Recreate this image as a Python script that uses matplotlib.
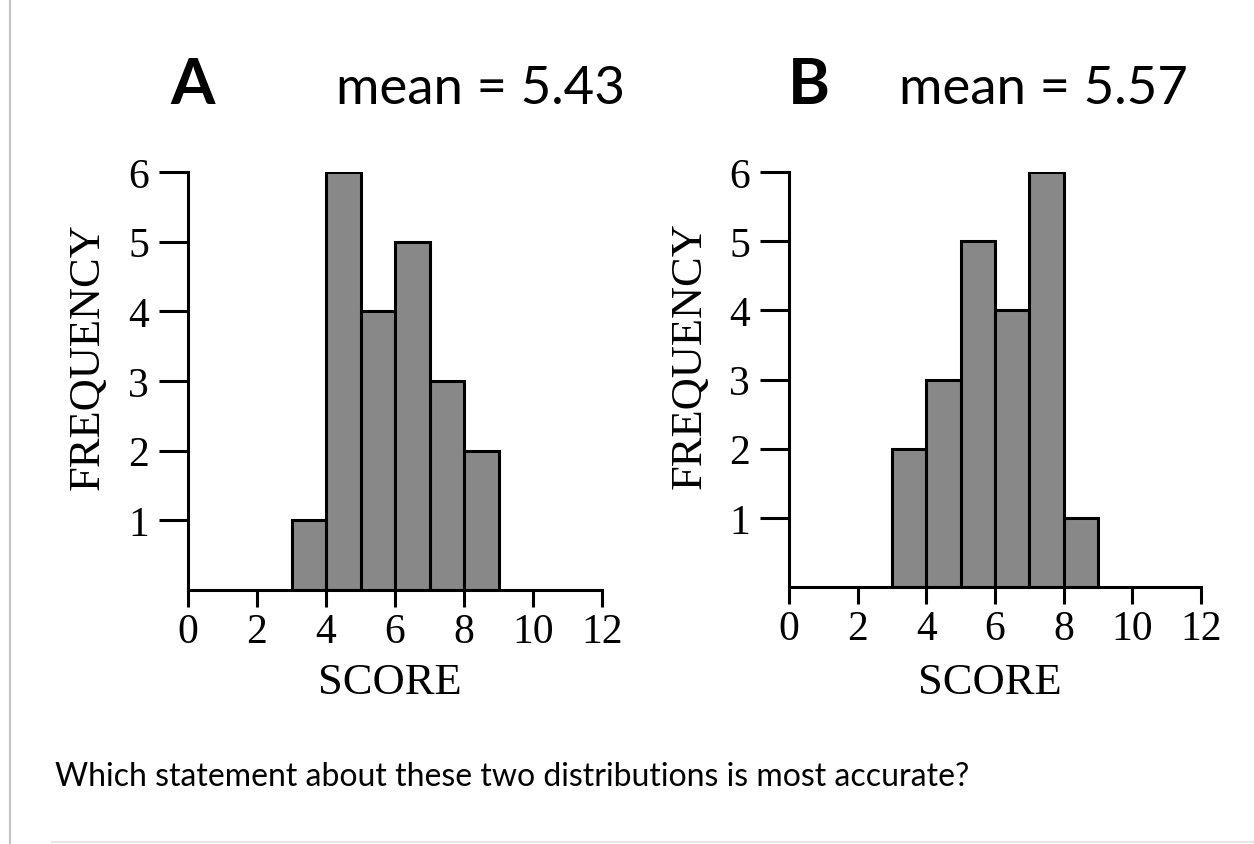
import matplotlib
matplotlib.use("Agg")
import matplotlib.pyplot as plt
from matplotlib.lines import Line2D

# ==========================
# DATOS
# ==========================

bin_edges = [3, 4, 5, 6, 7, 8, 9]
freq_a = [1, 6, 4, 5, 3, 2]
freq_b = [2, 3, 5, 4, 6, 1]

x_ticks = [0, 2, 4, 6, 8, 10, 12]
y_ticks = [1, 2, 3, 4, 5, 6]

title_a = "mean = 5.43"
title_b = "mean = 5.57"
question = "Which statement about these two distributions is most accurate?"

BAR_COLOR = "#888888"
LW = 2.2
SERIF = "Liberation Serif"
SANS = "Lato"

W, H = 1254, 845
fig = plt.figure(figsize=(W / 100, H / 100), dpi=100)
fig.patch.set_facecolor("white")


def px_axes(left, bottom_px, right, top_px):
    return fig.add_axes([
        left / W,
        (H - bottom_px) / H,
        (right - left) / W,
        (bottom_px - top_px) / H,
    ])


def histograma(ax, freqs, score_y):
    ax.bar(
        bin_edges[:-1],
        freqs,
        width=1,
        align="edge",
        color=BAR_COLOR,
        edgecolor="black",
        linewidth=LW,
        zorder=2,
    )
    ax.set_xlim(0, 12)
    ax.set_ylim(0, 6)
    ax.set_xticks(x_ticks)
    ax.set_yticks(y_ticks)
    ax.set_xticklabels([str(t) for t in x_ticks], fontfamily=SERIF, fontsize=30)
    ax.set_yticklabels([str(t) for t in y_ticks], fontfamily=SERIF, fontsize=30)

    for s in ["top", "right"]:
        ax.spines[s].set_visible(False)
    for s in ["left", "bottom"]:
        ax.spines[s].set_linewidth(LW)
        ax.spines[s].set_zorder(3)
        ax.spines[s].set_capstyle("projecting")

    ax.tick_params(axis="x", direction="out", length=12, width=LW, pad=4)
    ax.tick_params(axis="y", direction="out", length=21, width=LW, pad=7)

    ax.text(
        -0.2415, 0.56, "FREQUENCY",
        transform=ax.transAxes,
        rotation=90,
        ha="center", va="center",
        fontfamily=SERIF, fontsize=32,
    )
    ax.text(
        0.488, score_y, "SCORE",
        transform=ax.transAxes,
        ha="center", va="center",
        fontfamily=SERIF, fontsize=32,
    )


ax_a = px_axes(188, 591, 602, 173)
histograma(ax_a, freq_a, -0.22)

ax_b = px_axes(789, 588, 1201, 173)
histograma(ax_b, freq_b, -0.229)

# titulos
fig.text(193 / W, (H - 104) / H, "A", ha="center", va="baseline",
         fontfamily=SANS, fontweight="bold", fontsize=46)
fig.text(481 / W, (H - 104) / H, title_a, ha="center", va="baseline",
         fontfamily=SANS, fontsize=38)
fig.text(809 / W, (H - 104) / H, "B", ha="center", va="baseline",
         fontfamily=SANS, fontweight="bold", fontsize=46)
fig.text(1043 / W, (H - 104) / H, title_b, ha="center", va="baseline",
         fontfamily=SANS, fontsize=38)

# pregunta
fig.text(55 / W, (H - 786) / H, question, ha="left", va="baseline",
         fontfamily=SANS, fontsize=23)

# bordes
fig.add_artist(Line2D([10 / W, 10 / W], [0, 1], color="#c4c4c4", linewidth=1.6))
fig.add_artist(Line2D([52 / W, 1], [2 / H, 2 / H], color="#e6e6e6", linewidth=1.5))

fig.savefig("out.png", dpi=100, facecolor="white")
